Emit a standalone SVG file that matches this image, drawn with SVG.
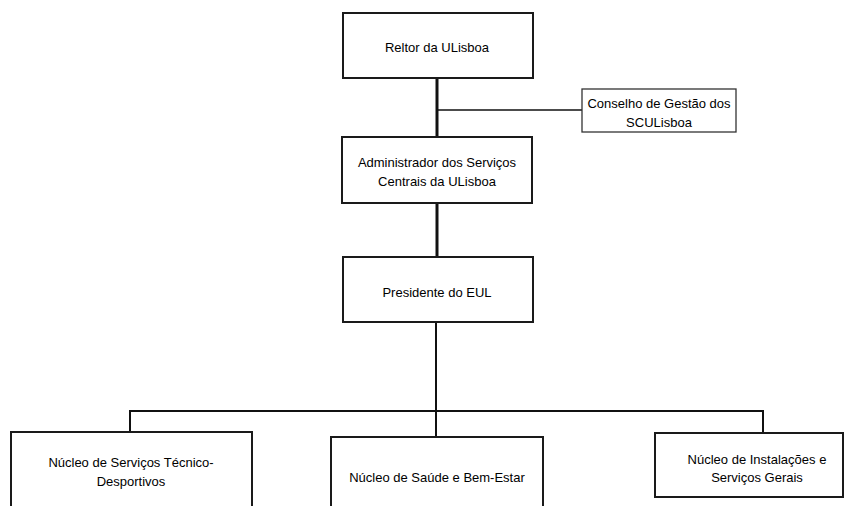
<svg xmlns="http://www.w3.org/2000/svg" width="846" height="506" viewBox="0 0 846 506">
<style>
.box{fill:#fff;stroke:#1a1a1a;stroke-width:2}
.thin{fill:#fff;stroke:#333;stroke-width:1.3}
.t{font-family:"Liberation Sans",Arial,sans-serif;font-size:13px;fill:#000;text-anchor:middle}
.c{fill:none;stroke:#111}
</style>
<rect width="846" height="506" fill="#fff"/>
<g id="connectors">
<line class="c" x1="437" y1="78" x2="437" y2="137" stroke-width="3"/>
<line class="c" x1="437" y1="110" x2="582" y2="110" stroke-width="1.3"/>
<line class="c" x1="437" y1="203" x2="437" y2="257" stroke-width="3"/>
<line class="c" x1="436" y1="322" x2="436" y2="437" stroke-width="2"/>
<polyline class="c" points="130,432 130,411 763,411 763,433" stroke-width="2"/>
</g>
<g id="reitor">
<rect class="box" x="343" y="13" width="190" height="65"/>
<text class="t" x="437" y="52">Reltor da ULisboa</text>
</g>
<g id="conselho">
<rect class="thin" x="582" y="89" width="154" height="43"/>
<text class="t" x="659" y="108">Conselho de Gestão dos</text>
<text class="t" x="659" y="127">SCULisboa</text>
</g>
<g id="administrador">
<rect class="box" x="342" y="137" width="190" height="66"/>
<text class="t" x="437" y="167">Administrador dos Serviços</text>
<text class="t" x="437" y="186">Centrais da ULisboa</text>
</g>
<g id="presidente">
<rect class="box" x="343" y="257" width="190" height="65"/>
<text class="t" x="437" y="297">Presidente do EUL</text>
</g>
<g id="nucleo-tecnico">
<rect class="box" x="11" y="432" width="241" height="90"/>
<text class="t" x="131" y="467">Núcleo de Serviços Técnico-</text>
<text class="t" x="131" y="486">Desportivos</text>
</g>
<g id="nucleo-saude">
<rect class="box" x="331" y="437" width="212" height="90"/>
<text class="t" x="437" y="482">Núcleo de Saúde e Bem-Estar</text>
</g>
<g id="nucleo-instalacoes">
<rect class="box" x="655" y="433" width="188" height="64"/>
<text class="t" x="757" y="464">Núcleo de Instalações e</text>
<text class="t" x="757" y="482">Serviços Gerais</text>
</g>
</svg>
